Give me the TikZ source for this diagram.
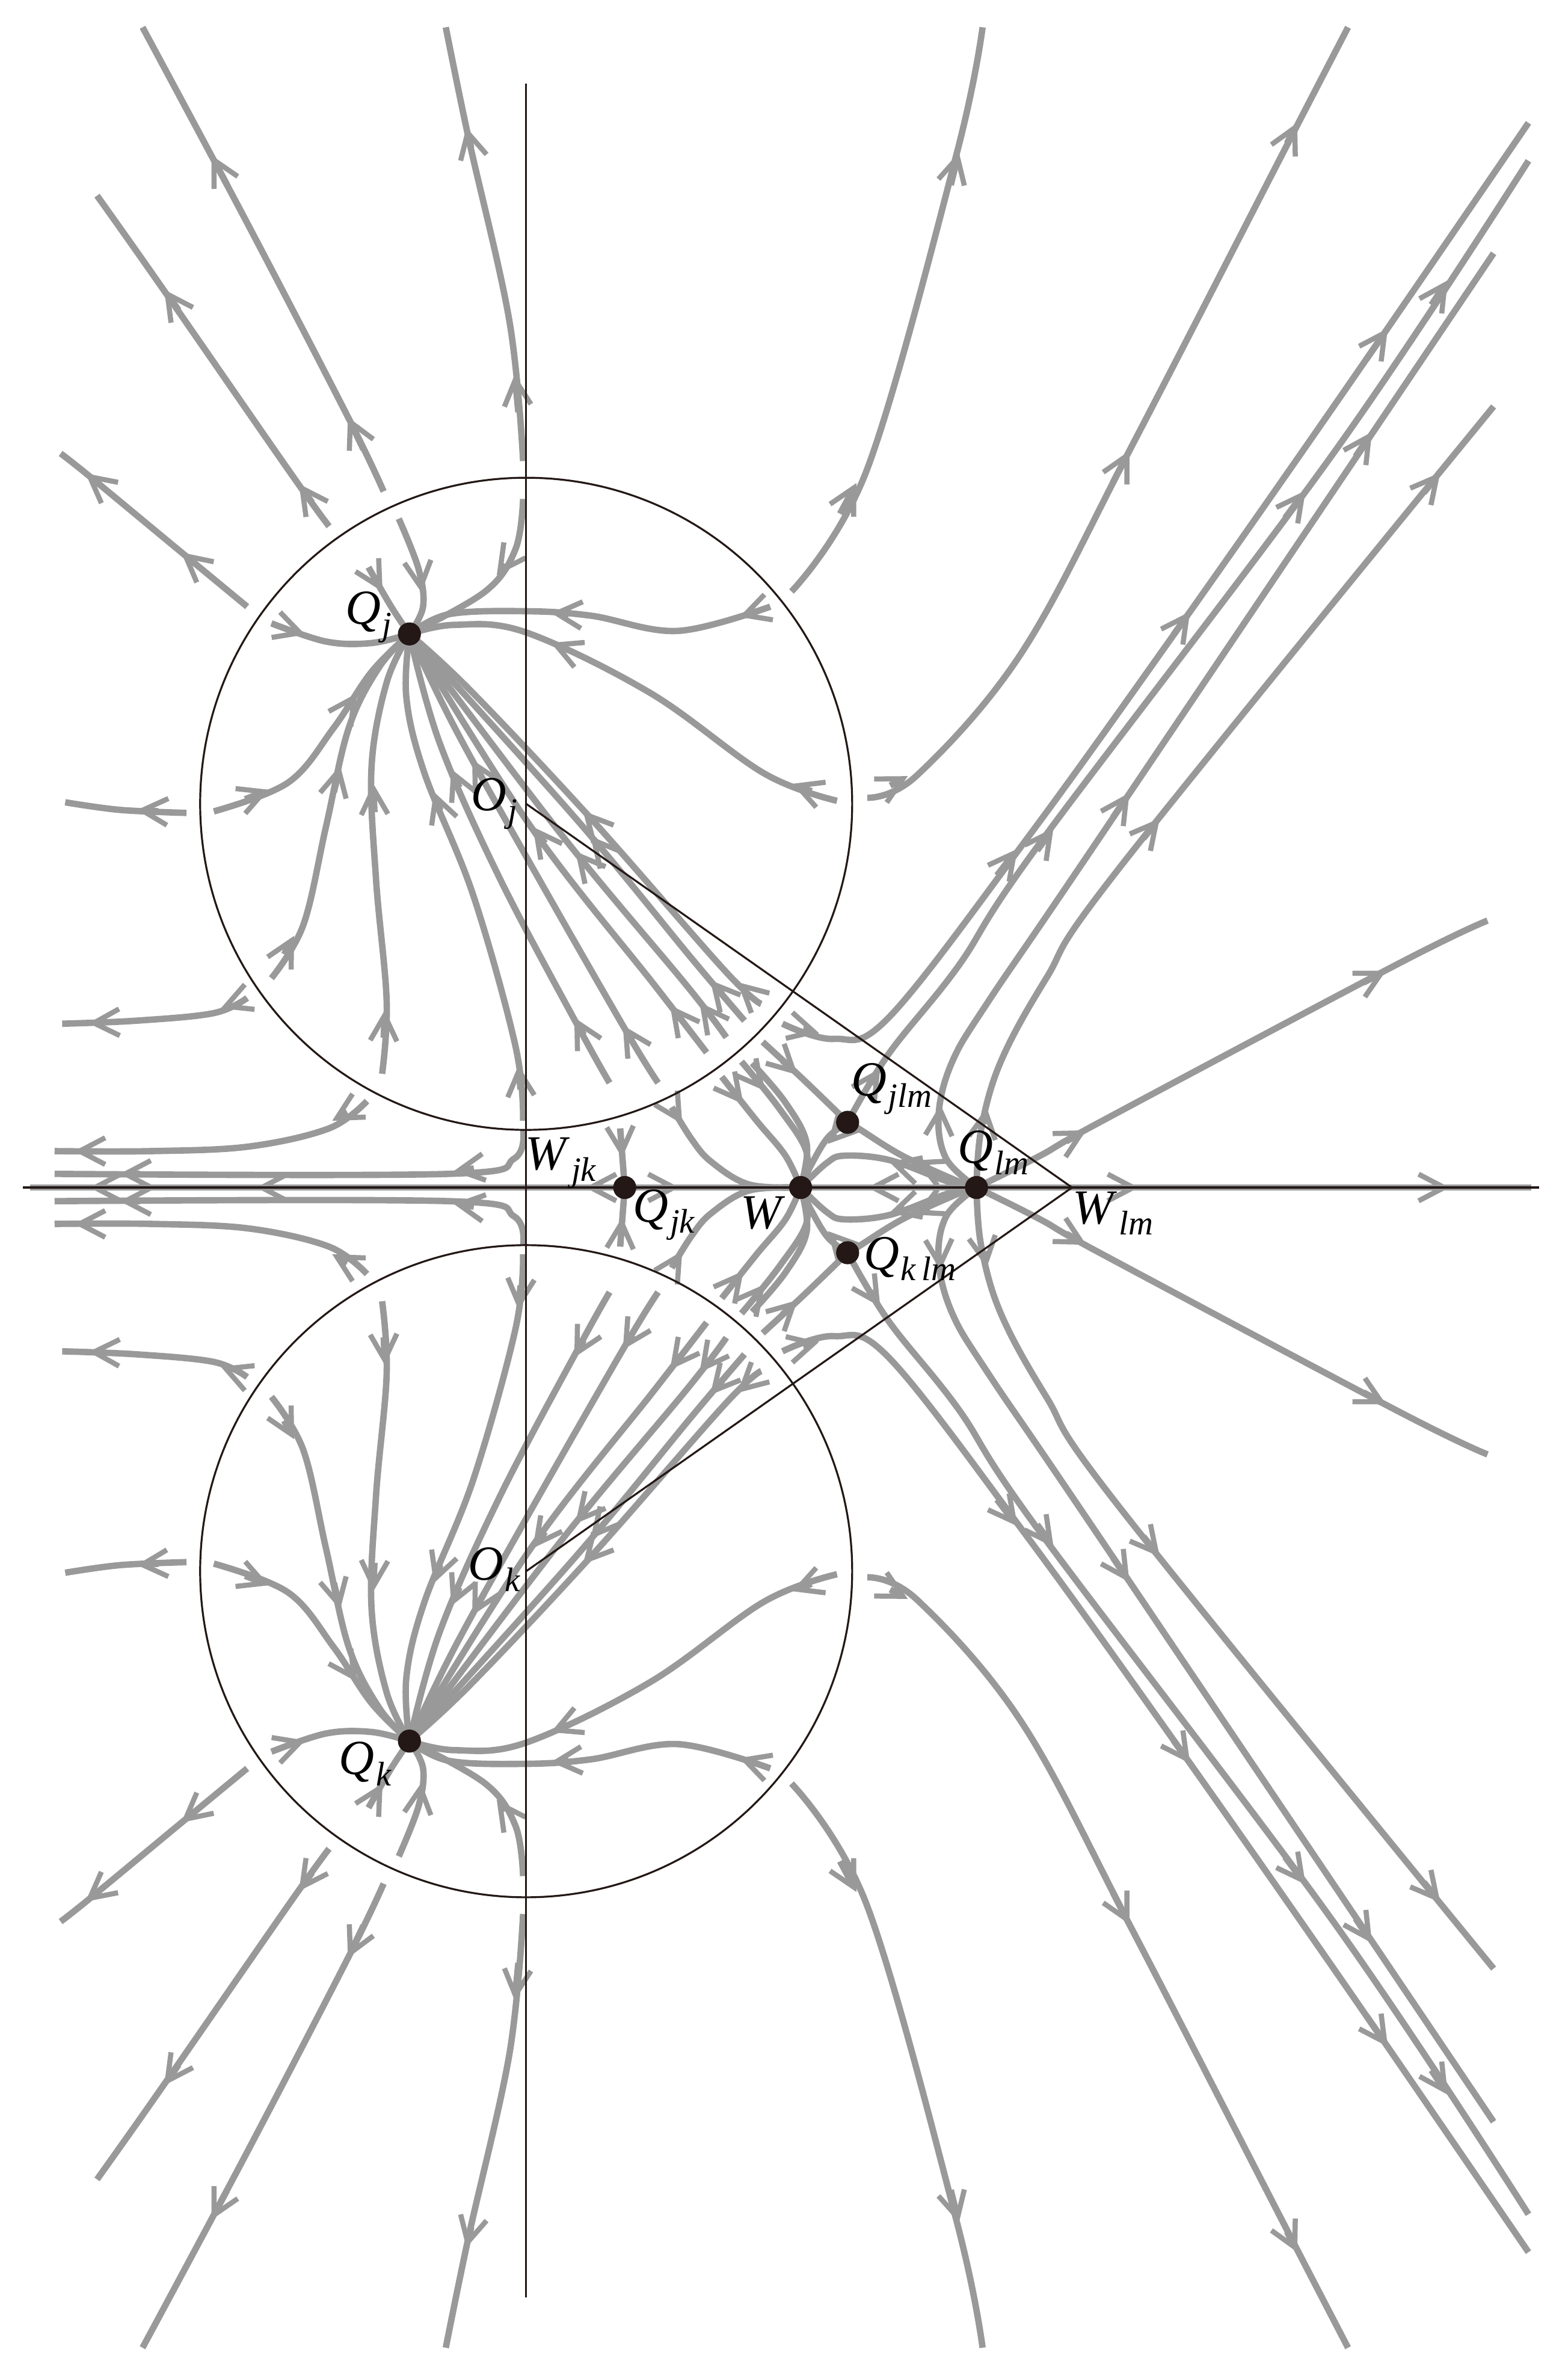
\documentclass[tikz,border=0pt]{standalone}
\usepackage{fontspec}
\setmainfont{Liberation Serif}
\usetikzlibrary{arrows.meta,calc}
\definecolor{flowc}{RGB}{153,153,153}
\definecolor{ink}{RGB}{35,24,21}
\newcommand\lab[2]{\textit{#1}\kern0.03em\raisebox{-0.5ex}{\fontsize{16}{16}\selectfont\textit{#2}}}
\newcommand\ar[2]{\draw[tipln] ($#1!0.35!#2$) -- ($#1!0.62!#2$);}
\tikzset{
 flow/.style={draw=flowc,line width=3pt},
 tipln/.style={draw=flowc,line width=3pt,-{Straight Barb[length=4.2mm,width=4.4mm,line width=2.4pt]}},
 sm/.style={smooth,tension=0.6},
 blk/.style={draw=ink,line width=0.9pt},
 dot/.style={circle,fill=ink,inner sep=0pt,minimum size=0.38cm},
 lbl/.style={font=\fontsize{23}{25}\selectfont,inner sep=0pt}
}
\newcommand\drawhalf{%
 \draw[flow] plot[sm] coordinates {(345,329)(340,362)(320,390)(270,418)};
 \ar{(340,362)}{(320,390)}
 \draw[flow] plot[sm] coordinates {(263,342)(276,375)(279,400)(270,418)};
 \ar{(276,375)}{(279,400)}
 \draw[flow] plot[sm] coordinates {(243,374)(258,400)(270,418)};
 \ar{(243,374)}{(258,400)}
 \draw[flow] plot[sm] coordinates {(179,411)(215,423)(245,424)(270,418)};
 \ar{(179,411)}{(215,423)}
 \draw[flow] plot[sm] coordinates {(141,535)(190,516)(220,480)(245,443)(270,418)};
 \ar{(141,535)}{(200,512)}\ar{(220,480)}{(245,443)}
 \draw[flow] plot[sm] coordinates {(179,645)(200,610)(215,545)(230,480)(250,440)(270,418)};
 \ar{(179,645)}{(203,600)}\ar{(215,545)}{(230,480)}
 \draw[flow] plot[sm] coordinates {(252,708)(255,660)(248,580)(245,506)(255,450)(270,418)};
 \ar{(252,708)}{(255,640)}\ar{(248,560)}{(245,490)}
 \draw[flow] plot[sm] coordinates {(345,739)(340,690)(312,590)(280,510)(268,460)(270,418)};
 \ar{(345,739)}{(340,680)}\ar{(296,550)}{(280,505)}
 \draw[flow] plot[sm] coordinates {(402,714)(383,680)(330,580)(290,490)(270,418)};
 \ar{(393,697)}{(370,655)}\ar{(310,535)}{(290,490)}
 \draw[flow] plot[sm] coordinates {(434,714)(413,680)(350,570)(300,480)(270,418)};
 \ar{(425,699)}{(402,662)}\ar{(330,535)}{(300,480)}
 \draw[flow] plot[sm] coordinates {(466,694)(432,650)(350,545)(270,418)};
 \ar{(458,684)}{(432,650)}\ar{(370,570)}{(340,530)}
 \draw[flow] plot[sm] coordinates {(479,684)(453,650)(370,550)(270,418)};
 \ar{(475,679)}{(453,650)}\ar{(395,580)}{(370,550)}
 \draw[flow] plot[sm] coordinates {(491,673)(457,633)(380,540)(270,418)};
 \ar{(487,668)}{(457,633)}\ar{(405,570)}{(380,540)}
 \draw[flow] plot[sm] coordinates {(502,662)(478,640)(390,540)(310,455)(270,418)};
 \ar{(500,660)}{(478,640)}\ar{(400,552)}{(375,524)}
 \draw[flow] plot[sm] coordinates {(508,400)(447,416)(390,406)(347,403)(296,405)(270,418)};
 \ar{(508,400)}{(475,411)}\ar{(390,406)}{(347,403)}
 \draw[flow] plot[sm] coordinates {(552,528)(504,510)(429,457)(347,417)(300,412)(270,418)};
 \ar{(552,528)}{(504,510)}\ar{(390,435)}{(347,417)}
 \draw[flow] plot[sm] coordinates {(345,304)(336,212)(309,91)(294,18)};
 \ar{(345,304)}{(336,212)}\ar{(315,115)}{(303,65)}
 \draw[flow] plot[sm] coordinates {(253,324)(230,276)(163,147)(94,18)};
 \ar{(253,324)}{(215,245)}\ar{(163,147)}{(125,75)}
 \draw[flow] plot[sm] coordinates {(217,347)(191,311)(105,187)(64,129)};
 \ar{(217,347)}{(185,302)}\ar{(130,222)}{(95,172)}
 \draw[flow] plot[sm] coordinates {(163,400)(117,362)(59,314)(40,299)};
 \ar{(140,381)}{(107,354)}\ar{(75,327)}{(45,303)}
 \draw[flow] plot[sm] coordinates {(123,536)(79,534)(43,529)};
 \ar{(123,536)}{(70,533)}
 \draw[flow] plot[sm] coordinates {(163,658)(141,668)(90,673)(41,675)};
 \ar{(163,658)}{(135,669)}\ar{(80,674)}{(45,675)}
 \draw[flow] plot[sm] coordinates {(242,726)(217,744)(164,756)(100,759)(36,759)};
 \ar{(242,726)}{(205,747)}\ar{(70,759)}{(36,759)}
 \draw[flow] plot[sm] coordinates {(345,745)(339,764)(296,774)(36,774)};
 \ar{(330,768)}{(280,775)}\ar{(110,774)}{(60,774)}
 \draw[flow] plot[sm] coordinates {(409,744)(412,783)};
 \ar{(409,744)}{(411,775)}
 \draw[flow] plot[sm] coordinates {(443,730)(456,751)(469,766)(494,781)(528,783)};
 \ar{(440,725)}{(456,751)}
 \draw[flow] plot[sm] coordinates {(476,710)(499,739)(518,762)(528,783)};
 \ar{(476,710)}{(499,739)}
 \draw[flow] plot[sm] coordinates {(489,700)(514,731)(532,760)(528,783)};
 \ar{(489,700)}{(514,731)}
 \draw[flow] plot[sm] coordinates {(503,687)(530,712)(559,740)};
 \ar{(503,687)}{(540,722)}
 \draw[flow] plot[sm] coordinates {(496,701)(518,727)(532,754)(528,783)};
 \draw[flow] plot[sm] coordinates {(516,675)(550,685)(587,670)(678,552)(773,420)(883,263)(1008,81)};
 \ar{(516,675)}{(555,685)}\ar{(640,600)}{(690,535)}\ar{(760,438)}{(800,382)}\ar{(883,263)}{(935,188)}
 \draw[flow] plot[sm] coordinates {(559,740)(586,695)(632,637)(685,557)(880,298)(1008,106)};
 \ar{(565,728)}{(590,690)}\ar{(670,580)}{(710,525)}\ar{(830,365)}{(880,298)}\ar{(930,222)}{(970,162)}
 \draw[flow] plot[sm] coordinates {(644,783)(624,764)(619,735)(628,700)(652,660)(720,560)(985,167)};
 \ar{(619,750)}{(621,715)}\ar{(720,560)}{(760,500)}\ar{(880,322)}{(920,262)}
 \draw[flow] plot[sm] coordinates {(644,783)(647,745)(660,700)(690,645)(740,570)(985,268)};
 \ar{(647,755)}{(653,715)}\ar{(740,570)}{(780,521)}\ar{(925,342)}{(965,293)}
 \draw[flow] plot[sm] coordinates {(644,783)(686,762)(727,739)(923,635)(981,607)};
 \ar{(686,762)}{(735,735)}\ar{(880,658)}{(935,629)}
 \draw[flow] plot[sm] coordinates {(522,390)(572,309)(631,101)(648,18)};
 \ar{(540,365)}{(580,290)}\ar{(620,150)}{(640,70)}
 \draw[flow] plot[sm] coordinates {(572,526)(605,511)(674,430)(747,293)(846,101)(889,18)};
 \ar{(572,526)}{(615,503)}\ar{(720,345)}{(760,268)}\ar{(840,112)}{(865,62)}
 \draw[flow] plot[sm] coordinates {(559,740)(546,750)(535,768)(528,783)};
 \ar{(559,740)}{(538,763)}
 \draw[flow] plot[sm] coordinates {(644,783)(632,779)(595,762)(566,744)(559,740)};
 \ar{(625,775)}{(590,759)}
 \draw[flow] plot[sm] coordinates {(644,783)(625,779)(587,765)(557,762)(545,767)(528,783)};
 \ar{(610,773)}{(572,762)}
}
\begin{document}
\begin{tikzpicture}[x=0.025cm,y=-0.025cm]
\useasboundingbox (0,0) rectangle (1034,1566);
\drawhalf
\begin{scope}[shift={(0,1566)},yscale=-1]
\drawhalf
\end{scope}
\coordinate (Qj) at (270,418); \coordinate (Qk) at (270,1148);
\coordinate (Qjk) at (412,783); \coordinate (W) at (528,783);
\coordinate (Qlm) at (644,783); \coordinate (Wlm) at (707,783);
\coordinate (Qjlm) at (559,740); \coordinate (Qklm) at (559,826);
\coordinate (Oj) at (347,530); \coordinate (Ok) at (347,1036);
\coordinate (L) at (20,783); \coordinate (R) at (1010,783);
\draw[flow] (Qjk) -- (L);
\ar{(Qjk)}{(370,783)}\ar{(200,783)}{(150,783)}\ar{(90,783)}{(40,783)}
\draw[flow] (Qjk) -- (W);
\ar{(Qjk)}{(470,783)}
\draw[flow] (Qlm) -- (W);
\ar{(Qlm)}{(W)}
\draw[flow] (Qlm) -- (R);
\ar{(720,783)}{(770,783)}\ar{(925,783)}{(975,783)}
\draw[blk] (347,55) -- (347,1515);
\draw[blk] (15,783) -- (1015,783);
\draw[blk] (Oj) circle[x radius=215,y radius=215];
\draw[blk] (Ok) circle[x radius=215,y radius=215];
\draw[blk] (Oj) -- (Wlm) -- (Ok);
\foreach \p in {Qj,Qk,Qjk,W,Qlm,Qjlm,Qklm} \node[dot] (d\p) at (\p) {};
\node[lbl] (tQj) at (243,407) {\lab{Q}{j}};
\node[lbl] (tOj) at (326,530) {\lab{O}{j}};
\node[lbl] (tWjk) at (370,767) {\lab{W}{jk}};
\node[lbl] (tQjk) at (438,801) {\lab{Q}{jk}};
\node[lbl] (tW) at (503,800) {\textit{W}};
\node[lbl] (tQjlm) at (588,718) {\lab{Q}{jlm}};
\node[lbl] (tQlm) at (655,760) {\lab{Q}{lm}};
\node[lbl] (tWlm) at (734,800) {\lab{W}{lm}};
\node[lbl] (tQklm) at (600,830) {\lab{Q}{k\,lm}};
\node[lbl] (tOk) at (326,1035) {\lab{O}{k}};
\node[lbl] (tQk) at (241,1163) {\lab{Q}{k}};
\end{tikzpicture}
\end{document}
